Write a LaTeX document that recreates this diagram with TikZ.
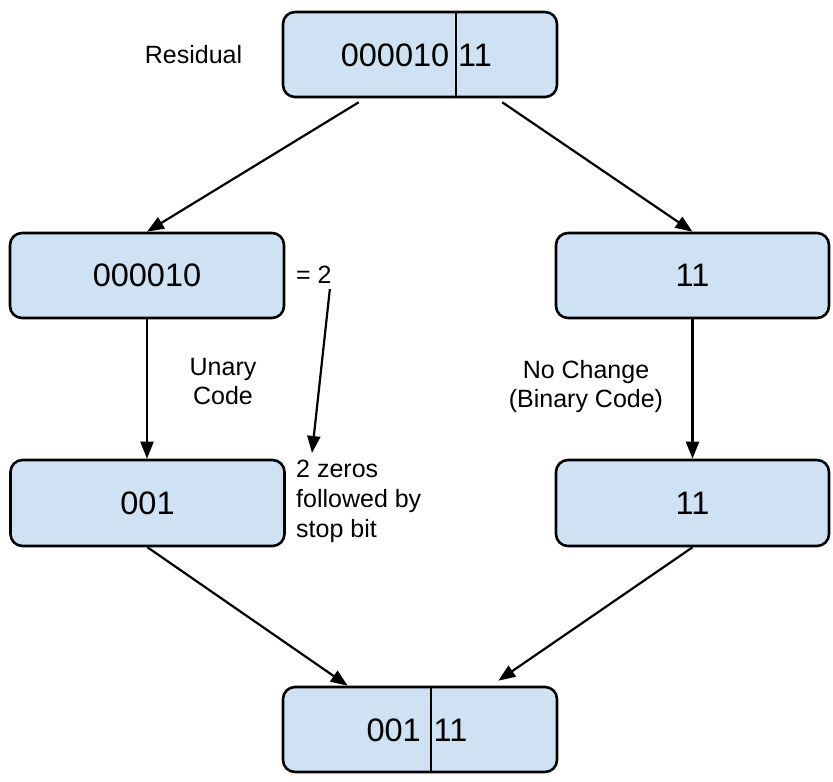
\documentclass[tikz,border=0pt]{standalone}
\usepackage{fontspec}
\setmainfont{Liberation Sans}
\usetikzlibrary{arrows.meta}
\definecolor{boxblue}{HTML}{CFE2F3}
\begin{document}
\begin{tikzpicture}[x=1pt,y=-1pt,
  codebox/.style={draw=black, line width=2.6pt, fill=boxblue, rounded corners=12pt,
                  minimum width=274pt, minimum height=85pt, inner sep=0pt,
                  font=\fontsize{32.5}{39}\selectfont},
  bits/.style={font=\fontsize{32.5}{39}\selectfont, inner sep=0pt},
  note/.style={font=\fontsize{25}{30}\selectfont, inner sep=0pt, anchor=base},
  divider/.style={line width=2.6pt},
  arr/.style={line width=2.2pt, -{Triangle[length=17pt,width=13pt]}}]
\useasboundingbox (0,0) rectangle (833,782);

% code boxes
\node[codebox] (top) at (420,54.5) {};
\node[codebox] (lm) at (147,275.5) {000010};
\node[codebox, minimum width=273pt] (rm) at (692.5,275.5) {11};
\node[codebox, minimum height=86pt] (ll) at (147.5,503) {001};
\node[codebox, minimum width=273pt, minimum height=86pt] (rl) at (692.5,503) {11};
\node[codebox] (bot) at (420,729.5) {};

% split boxes: prefix | suffix
\draw[divider] ([xshift=36pt]top.north) -- ([xshift=36pt]top.south);
\node[bits, anchor=base east] (topa) at (449.5,66.3) {000010};
\node[bits, anchor=base west] (topb) at (458,66.3) {11};
\draw[divider] ([xshift=11pt]bot.north) -- ([xshift=11pt]bot.south);
\node[bits, anchor=base east] (bota) at (421,741.3) {001};
\node[bits, anchor=base west] (botb) at (433.5,741.3) {11};

% annotations
\node[note] (res) at (193.5,63.5) {Residual};
\node[note, anchor=base west] (eq) at (296,283) {= 2};
\node[note] (un1) at (223,375) {Unary};
\node[note] (un2) at (223,404) {Code};
\node[note] (nc1) at (586,378) {No Change};
\node[note] (nc2) at (586,407) {(Binary Code)};
\node[note, anchor=base west] (z1) at (296,477) {2 zeros};
\node[note, anchor=base west] (z2) at (296,507) {followed by};
\node[note, anchor=base west] (z3) at (296,537) {stop bit};

% connectors
\draw[arr] ([xshift=77pt,yshift=-4pt]top.south west) -- (lm.north);
\draw[arr] ([xshift=-56pt,yshift=-4pt]top.south east) -- (rm.north);
\draw[arr] (lm.south) -- (lm.south |- ll.north);
\draw[arr] (rm.south) -- (rm.south |- rl.north);
\draw[arr] (ll.south) -- ([xshift=66pt]bot.north west);
\draw[arr] (rl.south) -- ([xshift=-60pt,yshift=5pt]bot.north east);
\coordinate (eqend) at (312,453);
\draw[arr] ([xshift=-2pt,yshift=-6pt]eq.south east) -- (eqend);
\end{tikzpicture}
\end{document}
